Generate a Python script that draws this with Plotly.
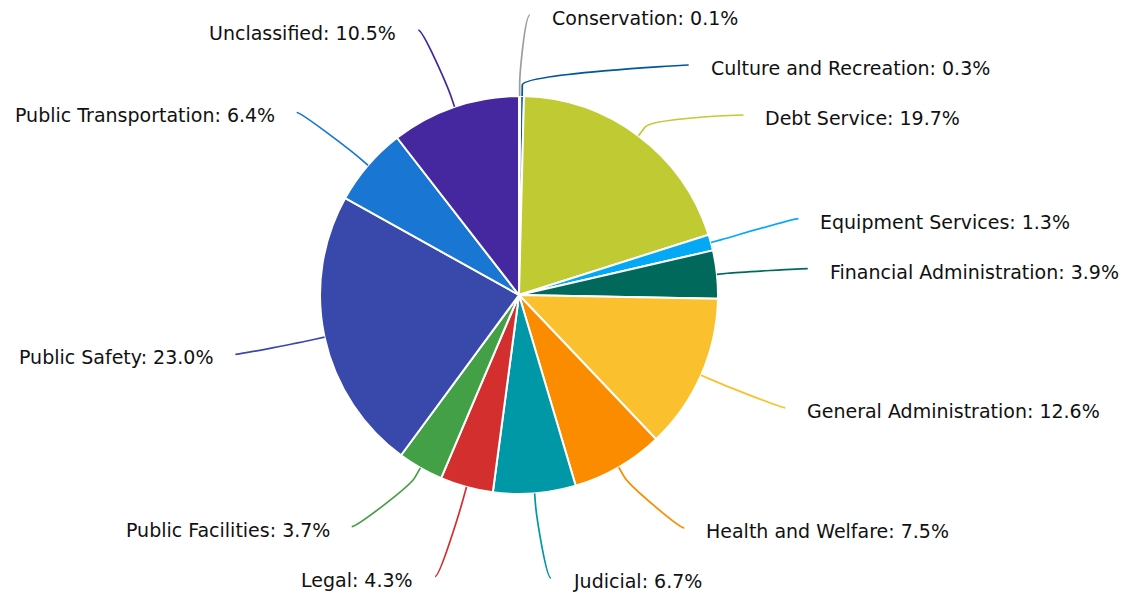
import math
import plotly.graph_objects as go

# ---------------- data ----------------
categories = [
    "Conservation", "Culture and Recreation", "Debt Service", "Equipment Services",
    "Financial Administration", "General Administration", "Health and Welfare",
    "Judicial", "Legal", "Public Facilities", "Public Safety",
    "Public Transportation", "Unclassified",
]
shares = [0.1, 0.3, 19.7, 1.3, 3.9, 12.6, 7.5, 6.7, 4.3, 3.7, 23.0, 6.4, 10.5]
colors = [
    "#9E9E9E", "#01579B", "#C0CA33", "#03A9F4", "#00695C", "#FBC02D", "#FB8C00",
    "#0097A7", "#D32F2F", "#43A047", "#3949AB", "#1976D2", "#4527A0",
]

# ---------------- geometry / style ----------------
W, H = 1134, 595
CX, CY, R = 519, 295, 199          # pie centre and radius in pixels
LABEL_R = 280                      # radius used for label targets
PAD = 10                           # connector padding
TEXT_GAP = 20                      # gap connector end -> text
SLOT = 50                          # vertical slot per label
LO, HI = 15, 578                   # vertical bounds for label anchors
BREAK = 11                         # connector break offset
FONT = "DejaVu Sans"
FS = 19

total = sum(shares)
mids = []
acc = 0.0
for v in shares:
    mids.append((acc + v / 2) / total * 2 * math.pi)   # clockwise from 12 o'clock
    acc += v


def distribute(items):
    # items: list of (idx, target) sorted by target
    boxes = [{"t": [t], "i": [i]} for i, t in items]
    while True:
        for b in boxes:
            size = SLOT * len(b["i"])
            tgt = (min(b["t"]) + max(b["t"])) / 2
            top = tgt - size / 2
            top = max(top, LO - SLOT / 2)
            top = min(top, HI + SLOT / 2 - size)
            b["pos"] = top
        merged = False
        for k in range(len(boxes) - 1):
            a, b = boxes[k], boxes[k + 1]
            if a["pos"] + SLOT * len(a["i"]) > b["pos"] + 1e-9:
                a["t"] += b["t"]
                a["i"] += b["i"]
                del boxes[k + 1]
                merged = True
                break
        if not merged:
            break
    out = {}
    for b in boxes:
        for n, i in enumerate(b["i"]):
            out[i] = b["pos"] + SLOT / 2 + n * SLOT
    return out


natural_y = [CY - LABEL_R * math.cos(a) for a in mids]
right = sorted([(i, natural_y[i]) for i in range(len(shares)) if mids[i] < math.pi], key=lambda p: p[1])
left = sorted([(i, natural_y[i]) for i in range(len(shares)) if mids[i] >= math.pi], key=lambda p: p[1])
ypos = {}
ypos.update(distribute(right))
ypos.update(distribute(left))

fig = go.Figure()
fig.add_trace(go.Pie(
    labels=categories, values=shares, sort=False, direction="clockwise", rotation=0,
    marker=dict(colors=colors, line=dict(color="#FFFFFF", width=2)),
    textinfo="none", hoverinfo="label+percent", showlegend=False,
    domain=dict(x=[(CX - R) / W, (CX + R) / W], y=[(H - CY - R) / H, (H - CY + R) / H]),
))
# invisible cartesian trace to establish pixel axes
fig.add_trace(go.Scatter(x=[0, W], y=[0, H], mode="markers", marker=dict(opacity=0),
                         hoverinfo="skip", showlegend=False))

shapes = []
annotations = []
for i, a in enumerate(mids):
    is_right = a < math.pi
    sgn = 1 if is_right else -1
    y = ypos[i]
    yx = natural_y[i] if (y < LO + 2 or y > HI - 2) else y
    dy = max(-LABEL_R, min(LABEL_R, yx - CY))
    xc = CX + sgn * (math.sqrt(LABEL_R ** 2 - dy ** 2) + PAD)
    tx, ty = CX + R * math.sin(a), CY - R * math.cos(a)
    bx, by = CX + (R + BREAK) * math.sin(a), CY - (R + BREAK) * math.cos(a)
    c1x, c1y = xc - sgn * 5, y
    c2x, c2y = 2 * bx - tx, 2 * by - ty
    path = (f"M {xc:.2f},{y:.2f} C {c1x:.2f},{c1y:.2f} {c2x:.2f},{c2y:.2f} "
            f"{bx:.2f},{by:.2f} L {tx:.2f},{ty:.2f}")
    shapes.append(dict(type="path", path=path, xref="x", yref="y",
                       line=dict(color=colors[i], width=1.7), layer="above"))
    pct = shares[i] / total * 100
    annotations.append(dict(
        x=xc + sgn * TEXT_GAP, y=y + 3, xref="x", yref="y",
        text=f"{categories[i]}: {pct:.1f}%", showarrow=False,
        xanchor="left" if is_right else "right", yanchor="middle",
        font=dict(family=FONT, size=FS, color="#111111"),
    ))

fig.update_layout(
    width=W, height=H, margin=dict(l=0, r=0, t=0, b=0),
    paper_bgcolor="#FFFFFF", plot_bgcolor="rgba(0,0,0,0)",
    xaxis=dict(range=[0, W], visible=False, fixedrange=True),
    yaxis=dict(range=[H, 0], visible=False, fixedrange=True),
    shapes=shapes, annotations=annotations, showlegend=False,
)
fig.write_html("out.html", config={"displayModeBar": False},
               post_script="document.body.style.margin='0';")
